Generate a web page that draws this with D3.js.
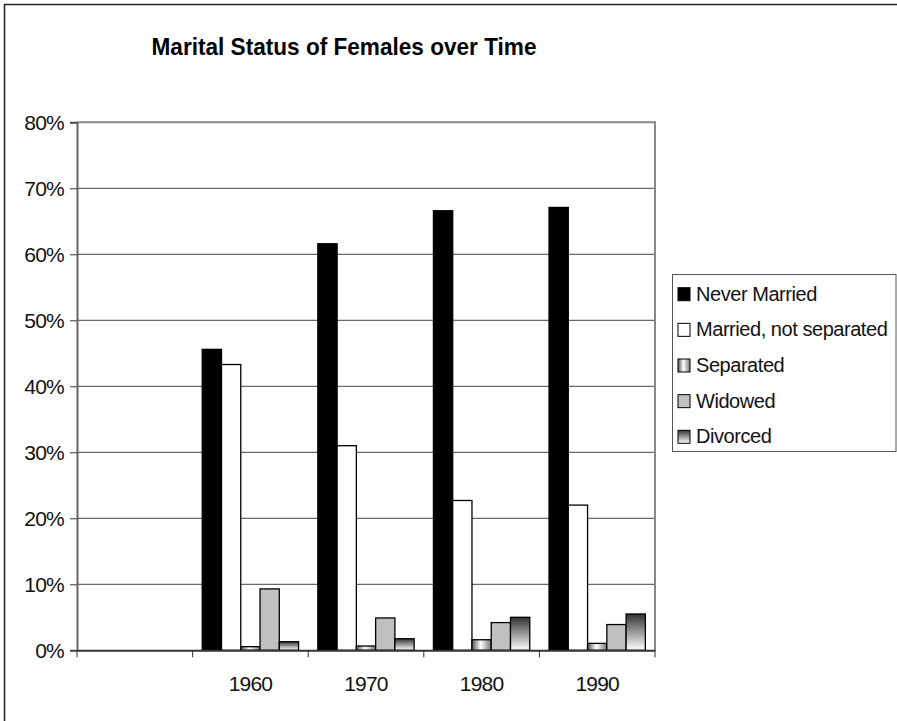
<!DOCTYPE html>
<html>
<head>
<meta charset="utf-8">
<script src="https://cdn.jsdelivr.net/npm/d3@7"></script>
<style>
	body { margin: 0; background: #fff; }
	svg { display: block; font-family: "Liberation Sans", Arial, sans-serif; }
</style>
</head>
<body>
<svg width="897" height="721"></svg>
<script>
// category slots on the x axis (the first one is left empty in the original)
var categories = ["", "1960", "1970", "1980", "1990"];

var seriesNames = ["Never Married", "Married, not separated", "Separated", "Widowed", "Divorced"];

// percent of females, one value per category
var neverMarried = [null, 45.6, 61.6, 66.6, 67.1];
var marriedNotSep = [null, 43.3, 31.0, 22.7, 22.0];
var separated = [null, 0.55, 0.65, 1.6, 1.05];
var widowed = [null, 9.3, 4.9, 4.2, 3.9];
var divorced = [null, 1.3, 1.75, 5.0, 5.5];

var yTicks = [0, 10, 20, 30, 40, 50, 60, 70, 80];

var seriesValues = [neverMarried, marriedNotSep, separated, widowed, divorced];
var fills = ["#000", "#fff", "url(#grad-sep)", "#c0c0c0", "url(#grad-div)"];

var svg = d3.select("svg");

// gradients for the two patterned series
var defs = svg.append("defs");
var gs = defs.append("linearGradient").attr("id", "grad-sep")
	.attr("x1", "0").attr("y1", "0").attr("x2", "1").attr("y2", "0");
gs.append("stop").attr("offset", "0%").attr("stop-color", "#555");
gs.append("stop").attr("offset", "45%").attr("stop-color", "#fff");
gs.append("stop").attr("offset", "100%").attr("stop-color", "#777");

var gd = defs.append("linearGradient").attr("id", "grad-div")
	.attr("x1", "0").attr("y1", "0").attr("x2", "0").attr("y2", "1");
gd.append("stop").attr("offset", "0%").attr("stop-color", "#333");
gd.append("stop").attr("offset", "100%").attr("stop-color", "#fff");

// outer chart frame (runs off the right and bottom edge)
svg.append("rect")
	.attr("x", 4.5).attr("y", 4.5)
	.attr("width", 920).attr("height", 740)
	.attr("fill", "none").attr("stroke", "#222").attr("stroke-width", 1.5);

svg.append("text")
	.attr("x", 344).attr("y", 55)
	.attr("text-anchor", "middle")
	.attr("font-size", 24).attr("font-weight", "bold")
	.attr("textLength", 385).attr("lengthAdjust", "spacingAndGlyphs")
	.text("Marital Status of Females over Time");

var plot = {left: 77, top: 122.3, right: 655, bottom: 650.3};

var x0 = d3.scaleBand().domain(categories).range([plot.left, plot.right]);
var x1 = d3.scaleBand().domain(seriesNames)
	.range([0, x0.bandwidth()]).paddingInner(0).paddingOuter(0.5);
var y = d3.scaleLinear().domain([0, 80]).range([plot.bottom, plot.top]);

// gridlines
svg.append("g")
	.selectAll("line")
	.data(yTicks.filter(function(t){ return t > 0 && t < 80; }))
	.enter().append("line")
		.attr("x1", plot.left).attr("x2", plot.right)
		.attr("y1", function(d){ return y(d); })
		.attr("y2", function(d){ return y(d); })
		.attr("stroke", "#444").attr("stroke-width", 1);

// plot area top and right border
svg.append("path")
	.attr("d", "M" + plot.left + "," + plot.top + "H" + plot.right + "V" + plot.bottom)
	.attr("fill", "none").attr("stroke", "#888").attr("stroke-width", 2);

// bars
var groups = svg.append("g")
	.selectAll("g")
	.data(categories)
	.enter().append("g")
		.attr("transform", function(d){ return "translate(" + x0(d) + ",0)"; });

groups.selectAll("rect")
	.data(function(d, ci){
		return seriesNames.map(function(s, si){
			return {key: s, v: seriesValues[si][ci], fill: fills[si]};
		}).filter(function(o){ return o.v != null; });
	})
	.enter().append("rect")
		.attr("x", function(d){ return x1(d.key); })
		.attr("y", function(d){ return y(d.v); })
		.attr("width", x1.bandwidth())
		.attr("height", function(d){ return y(0) - y(d.v); })
		.attr("fill", function(d){ return d.fill; })
		.attr("stroke", "#000").attr("stroke-width", 1.3);

// Y axis
function customYAxis(g){
	var yaxis = d3.axisLeft(y)
		.tickValues(yTicks)
		.tickFormat(function(d){ return d + "%"; })
		.tickSize(7).tickPadding(6);
	g.call(yaxis);
	g.select(".domain").attr("stroke", "#666").attr("stroke-width", 2);
	g.selectAll(".tick line").attr("stroke", "#333");
	g.selectAll("text")
		.attr("font-size", 21).attr("fill", "#111")
		.attr("letter-spacing", -0.8)
		.attr("font-family", "Liberation Sans, Arial, sans-serif");
}

svg.append("g")
	.attr("transform", "translate(" + plot.left + ",0)")
	.call(customYAxis);

// X axis
function customXAxis(g){
	var xaxis = d3.axisBottom(x0).tickSize(0).tickPadding(26);
	g.call(xaxis);
	g.select(".domain").attr("stroke", "#333").attr("stroke-width", 2);
	g.selectAll("text")
		.attr("font-size", 21).attr("fill", "#111")
		.attr("letter-spacing", -0.8)
		.attr("font-family", "Liberation Sans, Arial, sans-serif");
	// tick marks sit between the categories
	g.selectAll(".sep")
		.data(categories.map(function(c){ return x0(c); }).concat([plot.right]))
		.enter().append("line")
			.attr("class", "sep")
			.attr("x1", function(d){ return d; }).attr("x2", function(d){ return d; })
			.attr("y1", 0).attr("y2", 7)
			.attr("stroke", "#333");
}

svg.append("g")
	.attr("transform", "translate(0," + plot.bottom + ")")
	.call(customXAxis);

// legend
var legend = svg.append("g").attr("transform", "translate(672,274)");
legend.append("rect")
	.attr("x", 0.5).attr("y", 0.5)
	.attr("width", 223.5).attr("height", 177)
	.attr("fill", "#fff").attr("stroke", "#555").attr("stroke-width", 1);

var items = legend.selectAll(".item")
	.data(seriesNames)
	.enter().append("g")
		.attr("class", "item")
		.attr("transform", function(d, i){ return "translate(0," + (26.7 + i * 35.65) + ")"; });

items.append("rect")
	.attr("x", 6).attr("y", -13)
	.attr("width", 12).attr("height", 13)
	.attr("fill", function(d, i){ return fills[i]; })
	.attr("stroke", "#000").attr("stroke-width", 1);

items.append("text")
	.attr("x", 24).attr("y", 0)
	.attr("font-size", 20).attr("fill", "#111")
	.attr("letter-spacing", -0.45)
	.text(function(d){ return d; });
</script>
</body>
</html>
